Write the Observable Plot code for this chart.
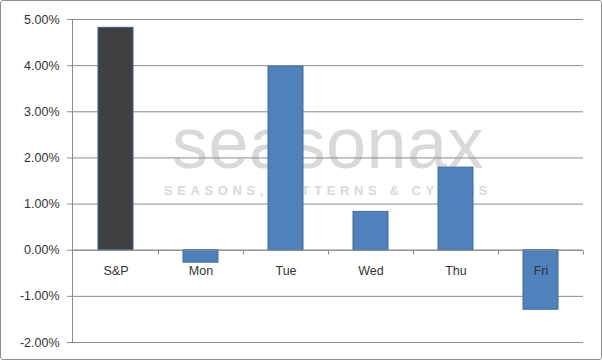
<!DOCTYPE html>
<html>
<head>
<meta charset="utf-8">
<script src="https://cdn.jsdelivr.net/npm/d3@7"></script>
<script src="https://cdn.jsdelivr.net/npm/@observablehq/plot@0.6"></script>
<style>
  html, body { margin: 0; padding: 0; background: #fff; }
  #chart { width: 600px; height: 358px; border: 1px solid #8c8c8c; border-radius: 3px; overflow: hidden; }
  #chart svg { display: block; }
</style>
</head>
<body>
<div id="chart"></div>
<script>
const categories = ["S&P", "Mon", "Tue", "Wed", "Thu", "Fri"];
const values = [4.82, -0.27, 3.98, 0.83, 1.79, -1.29];
const yTicks = [-2, -1, 0, 1, 2, 3, 4, 5];
const watermark = "seasonax";
const watermarkSub = "SEASONS, PATTERNS & CYCLES";

const data = categories.map((c, i) => ({cat: c, value: values[i], index: i === 0 ? "S&P" : "day"}));

const gridColor = "#8c8c8c";
const textColor = "#333333";

// tick marks at category boundaries, drawn through the band scale
function boundaryTicks(index, scales, values, dimensions) {
  const x = scales.x, y = scales.y;
  const bw = x.bandwidth(), step = x.step();
  const g = d3.create("svg:g").attr("stroke", gridColor).attr("stroke-width", 1);
  const y0 = Math.round(y(0)) + 0.5;
  const xs = categories.map(c => x(c) + bw / 2 - step / 2).concat([x(categories[categories.length - 1]) + bw / 2 + step / 2]);
  xs.slice(1).forEach(px => {
    const xx = Math.round(px) + 0.5;
    g.append("line").attr("x1", xx).attr("x2", xx).attr("y1", y0).attr("y2", y0 + 4);
  });
  return g.node();
}

// vertical axis line along the left of the plot area
function leftAxisLine(index, scales, values, dimensions) {
  const y = scales.y;
  const xx = dimensions.marginLeft + 0.5;
  return d3.create("svg:line")
    .attr("x1", xx).attr("x2", xx)
    .attr("y1", y(y.domain()[1])).attr("y2", y(y.domain()[0]))
    .attr("stroke", gridColor).node();
}

const plot = Plot.plot({
  width: 600,
  height: 358,
  marginLeft: 71,
  marginRight: 18,
  marginTop: 18,
  marginBottom: 17,
  style: {fontFamily: "Liberation Sans, Arial, sans-serif", fontSize: "12.5px", color: textColor, background: "#fff"},
  x: {domain: categories, paddingInner: 0.59, paddingOuter: 0.295, axis: null},
  y: {domain: [-2, 5], axis: null},
  marks: [
    // watermark
    Plot.text([watermark], {frameAnchor: "middle", text: d => d, dy: -36, fontSize: 72, fill: "#d9d9d9", fontFamily: "Liberation Sans, Arial, sans-serif"}),
    Plot.text([watermarkSub], {frameAnchor: "middle", text: d => d, dy: 10, fontSize: 13, fill: "#d9d9d9", fontWeight: "bold", fontFamily: "Liberation Sans, Arial, sans-serif"}),
    // gridlines
    Plot.ruleY(yTicks, {stroke: gridColor, strokeWidth: 1, strokeOpacity: 1}),
    // y axis
    Plot.axisY(yTicks, {label: null, tickFormat: d => d.toFixed(2) + "%", tickSize: 5, tickPadding: 8, stroke: gridColor, strokeOpacity: 1, fill: textColor, fontSize: 12.5}),
    leftAxisLine,
    // bars
    Plot.barY(data, {x: "cat", y: "value", fill: d => d.index === "S&P" ? "#404040" : "#4f81bd", stroke: d => d.index === "S&P" ? "#3d5f8a" : "#3b6ca5", strokeWidth: 1}),
    // zero line on top
    Plot.ruleY([0], {stroke: gridColor}),
    // category boundary ticks
    boundaryTicks,
    // category labels below the zero line
    Plot.text(categories, {x: d => d, y: 0, dy: 21, text: d => d, fill: textColor, fontSize: 12.5})
  ]
});

d3.select(plot).selectAll("text").filter(function() { return this.textContent === watermarkSub; })
  .attr("letter-spacing", "4.6px");
d3.select(plot).selectAll("text").filter(function() { return this.textContent === watermark; })
  .attr("letter-spacing", "0.5px");

document.getElementById("chart").appendChild(plot);
</script>
</body>
</html>
